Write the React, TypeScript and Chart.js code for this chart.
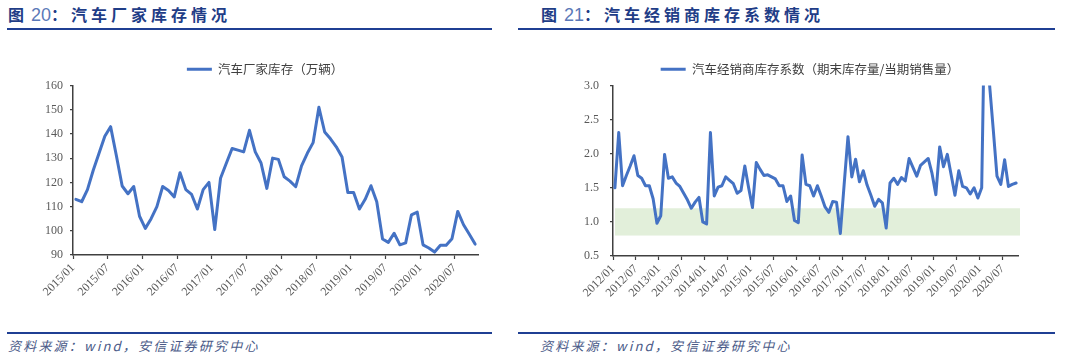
import React, { useEffect, useRef } from 'react';
import { Chart, registerables } from 'chart.js';

Chart.register(...registerables);

// ---------- data ----------
function buildMonths(startYear: number, count: number): string[] {
  const out: string[] = [];
  for (let i = 0; i < count; i++) {
    const y = startYear + Math.floor(i / 12);
    const m = (i % 12) + 1;
    out.push(`${y}/${m < 10 ? '0' + m : m}`);
  }
  return out;
}

const factoryMonths = buildMonths(2015, 70); // 2015/01 .. 2020/10
const dealerMonths = buildMonths(2012, 106); // 2012/01 .. 2020/10

const factoryInventory = [
  113, 112, 117, 125, 132, 139, 143, 131, 118.5, 115.3, 118.3, 106,
  101, 105, 110, 118.3, 116.6, 114, 124, 117, 115, 109, 117, 120,
  100.5, 121.7, 127.9, 134, 133.3, 132.6, 141.5, 132.6, 128, 117.5, 130, 129.5,
  122.3, 120.5, 118.2, 126.8, 132, 136.4, 151, 140.8, 138, 134.7, 130.5, 115.8,
  115.8, 109, 113, 118.6, 112, 96.6, 95.2, 99, 94.2, 95, 106.6, 107.7,
  94.2, 92.9, 91.2, 94, 94, 96.7, 108, 102.5, 98.6, 94.5,
];

const dealerCoefficient = [
  1.5, 2.31, 1.53, 1.68, 1.82, 1.97, 1.68, 1.64, 1.53, 1.53,
  1.34, 0.98, 1.09, 1.99, 1.64, 1.66, 1.57, 1.52, 1.42, 1.32,
  1.2, 1.29, 1.36, 1.0, 0.97, 2.31, 1.38, 1.51, 1.53, 1.66,
  1.61, 1.56, 1.42, 1.46, 1.82, 1.5, 1.21, 1.87, 1.77, 1.68,
  1.69, 1.66, 1.63, 1.53, 1.53, 1.3, 1.38, 1.02, 0.99, 1.98,
  1.55, 1.53, 1.38, 1.53, 1.38, 1.22, 1.14, 1.3, 1.29, 0.83,
  1.55, 2.25, 1.66, 1.92, 1.59, 1.75, 1.54, 1.39, 1.23, 1.33,
  1.28, 0.91, 1.57, 1.64, 1.55, 1.65, 1.6, 1.93, 1.8, 1.67,
  1.83, 1.88, 1.93, 1.71, 1.4, 2.1, 1.81, 1.99, 1.69, 1.39,
  1.75, 1.52, 1.5, 1.41, 1.5, 1.35, 1.5, 4.9, 3.05, 2.37,
  1.67, 1.55, 1.91, 1.52, 1.55, 1.57,
];

const factoryYRange = [90, 160, 10];
const dealerYRange = [0.5, 3.0, 0.5];
const dealerBand = [0.8, 1.2]; // reasonable range band

const factoryLegend = '汽车厂家库存（万辆）';
const dealerLegend = '汽车经销商库存系数（期末库存量/当期销售量）';

// ---------- styles ----------
const BLUE = '#4472C4';
const AXIS = '#404040';
const TICK_TEXT = '#595959';
const BAND = '#E2EFDA';
const TITLE_BLUE = '#1F3D87';
const CJK = '"Noto Sans CJK SC", "Noto Sans", sans-serif';
const SERIF = '"Liberation Serif", "DejaVu Serif", serif';

const bandPlugin = {
  id: 'band',
  beforeDatasetsDraw(chart: any, _args: any, opts: any) {
    if (!opts || !opts.range) return;
    const { ctx, chartArea, scales } = chart;
    const y = scales.y;
    const top = y.getPixelForValue(opts.range[1]);
    const bottom = y.getPixelForValue(opts.range[0]);
    ctx.save();
    ctx.fillStyle = opts.color;
    ctx.fillRect(chartArea.left + 2, top, chartArea.right - chartArea.left, bottom - top);
    ctx.restore();
  },
};

const legendShiftPlugin = {
  id: 'legendShift',
  afterLayout(chart: any, _args: any, opts: any) {
    const lg = chart.legend;
    if (!lg || !opts || !opts.dx) return;
    lg.left += opts.dx;
    lg.right += opts.dx;
  },
};

interface LineChartProps {
  labels: string[];
  values: number[];
  yRange: number[];
  decimals: number;
  legendText: string;
  band?: number[];
  yTickPad: number;
  xHeight: number;
  left: number;
  legendDx: number;
}

const PAD_LEFT = 20;

function LineChart(p: LineChartProps) {
  const ref = useRef<HTMLCanvasElement | null>(null);
  useEffect(() => {
    if (!ref.current) return;
    const plotWidth = 405;
    const half = plotWidth / p.labels.length / 2;
    const chart = new Chart(ref.current, {
      type: 'line',
      data: {
        labels: p.labels,
        datasets: [
          {
            label: p.legendText,
            data: p.values,
            borderColor: BLUE,
            backgroundColor: BLUE,
            borderWidth: 3,
            pointRadius: 0,
            tension: 0,
            fill: false,
            borderJoinStyle: 'round',
            borderCapStyle: 'round',
            clip: { left: 6, right: 6, top: 0, bottom: 6 },
          } as any,
        ],
      },
      options: {
        responsive: false,
        animation: false,
        layout: { padding: { left: PAD_LEFT, right: 62, top: 13, bottom: 0 } },
        plugins: {
          legend: {
            display: true,
            position: 'top',
            labels: {
              usePointStyle: true,
              pointStyle: 'line',
              pointStyleWidth: 25,
              boxHeight: 3,
              color: '#404040',
              font: { family: CJK, size: 12.5 },
              padding: 10,
            },
          },
          tooltip: { enabled: false },
          band: p.band ? { range: p.band, color: BAND } : {},
          legendShift: { dx: p.legendDx },
        } as any,
        scales: {
          x: {
            type: 'category',
            offset: true,
            grid: {
              offset: true,
              drawOnChartArea: false,
              drawTicks: true,
              tickLength: 4,
              tickWidth: 1.2,
              tickColor: (ctx: any) => (ctx.index % 6 === 0 ? AXIS : 'rgba(0,0,0,0)'),
            },
            border: { color: AXIS, width: 1.5 },
            ticks: {
              autoSkip: false,
              maxRotation: 45,
              minRotation: 45,
              padding: 2,
              labelOffset: -half,
              color: TICK_TEXT,
              font: { family: SERIF, size: 12 },
              callback: (_v: any, i: number) => (i % 6 === 0 ? p.labels[i] : ''),
            },
            afterFit: (s: any) => {
              s.height = p.xHeight;
            },
          },
          y: {
            min: p.yRange[0],
            max: p.yRange[1],
            grid: {
              drawOnChartArea: false,
              drawTicks: true,
              tickLength: 3,
              color: AXIS,
              lineWidth: 1.2,
            },
            border: { color: AXIS, width: 1.5 },
            ticks: {
              stepSize: p.yRange[2],
              padding: p.yTickPad,
              color: TICK_TEXT,
              font: { family: SERIF, size: 12 },
              callback: (v: any) => Number(v).toFixed(p.decimals),
            },
            afterFit: (s: any) => {
              s.width = 73 - PAD_LEFT;
            },
          },
        },
      } as any,
      plugins: [bandPlugin, legendShiftPlugin],
    });
    return () => chart.destroy();
  }, []);
  return (
    <canvas
      ref={ref}
      width={540}
      height={280}
      style={{ position: 'absolute', left: p.left, top: 40, width: 540, height: 280 }}
    />
  );
}

function Title({ left, num, text }: { left: number; num: string; text: string }) {
  return (
    <div
      style={{
        position: 'absolute',
        left,
        top: 2,
        whiteSpace: 'nowrap',
        fontFamily: CJK,
        fontSize: 16,
        fontWeight: 700,
        color: TITLE_BLUE,
        lineHeight: '24px',
        letterSpacing: '4px',
      }}
    >
      图
      <span
        style={{
          fontFamily: '"Liberation Sans", Arial, sans-serif',
          fontWeight: 400,
          fontSize: 18,
          color: '#5B79B8',
          letterSpacing: '0px',
          marginLeft: 3,
        }}
      >
        {num}
      </span>
      ：{text}
    </div>
  );
}

function Source({ left }: { left: number }) {
  return (
    <div
      style={{
        position: 'absolute',
        left,
        top: 337,
        whiteSpace: 'nowrap',
        fontFamily: CJK,
        fontSize: 13,
        fontStyle: 'italic',
        color: '#4A5A88',
        letterSpacing: '2.2px',
        lineHeight: '18px',
      }}
    >
      资料来源：wind，安信证券研究中心
    </div>
  );
}

function Rule({ left, width, top }: { left: number; width: number; top: number }) {
  return (
    <div style={{ position: 'absolute', left, top, width, height: 2, background: '#1F3F93' }} />
  );
}

export default function App() {
  return (
    <div
      style={{
        position: 'absolute',
        left: 0,
        top: 0,
        width: 1080,
        height: 363,
        background: '#fff',
        overflow: 'hidden',
      }}
    >
      <Title left={8} num="20" text="汽车厂家库存情况" />
      <Title left={541} num="21" text="汽车经销商库存系数情况" />
      <Rule left={7} width={485} top={28} />
      <Rule left={518} width={537} top={28} />
      <LineChart
        left={0}
        labels={factoryMonths}
        values={factoryInventory}
        yRange={factoryYRange}
        decimals={0}
        legendText={factoryLegend}
        yTickPad={7}
        xHeight={65}
        legendDx={16}
      />
      <LineChart
        left={540}
        labels={dealerMonths}
        values={dealerCoefficient}
        yRange={dealerYRange}
        decimals={1}
        legendText={dealerLegend}
        band={dealerBand}
        yTickPad={11}
        xHeight={64}
        legendDx={21}
      />
      <Rule left={7} width={485} top={332} />
      <Rule left={518} width={537} top={332} />
      <Source left={8} />
      <Source left={540} />
    </div>
  );
}
